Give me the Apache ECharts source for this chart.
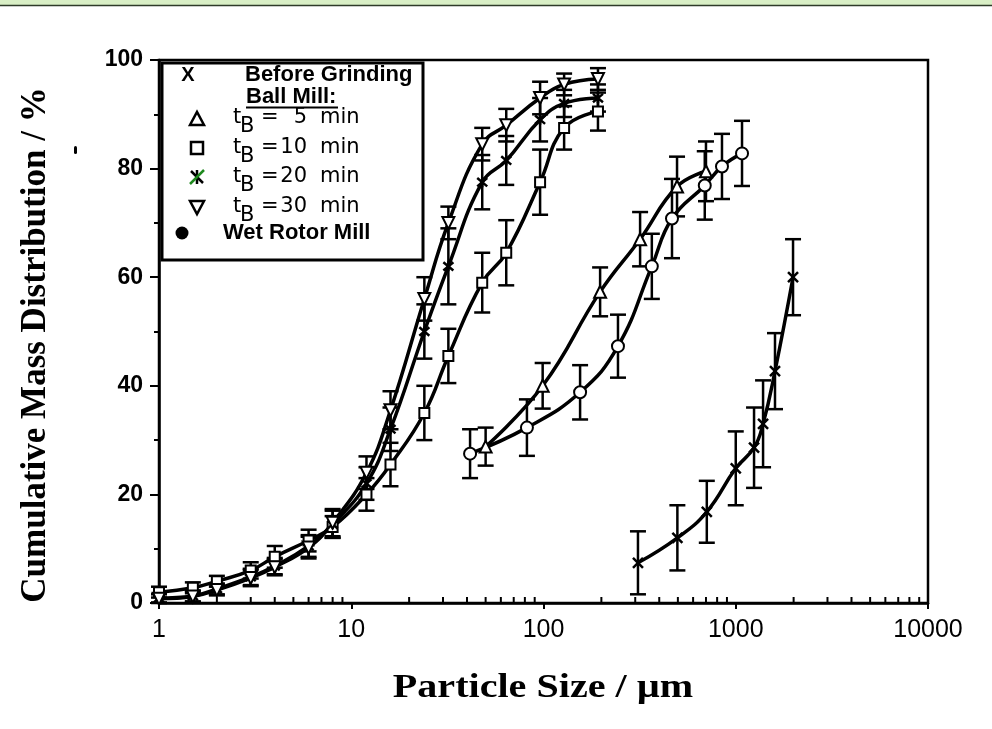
<!DOCTYPE html>
<html>
<head>
<meta charset="utf-8">
<script src="https://cdn.jsdelivr.net/npm/echarts@6/dist/echarts.min.js"></script>
<style>
  html, body { margin: 0; padding: 0; background: #fff; }
  #chart { width: 992px; height: 729px; }
</style>
</head>
<body>
<div id="chart"></div>
<script>
// particle sizes (um) for the ball mill runs
var sizeBall = [1, 1.5, 2, 3, 4, 6, 8, 12, 16, 24, 32, 48, 64, 96, 128, 192]
var t10 = [2.0, 2.8, 4.0, 6.0, 8.5, 11.5, 14.0, 20.0, 25.5, 35.0, 45.5, 59.0, 64.5, 77.5, 87.5, 90.5]
var err10 = [1, 1, 1, 1.5, 2, 2, 2, 3, 4, 5, 5, 5.5, 6, 6, 4, 3.5]
var t20 = [0.9, 1.3, 2.6, 4.8, 6.8, 10.5, 14.5, 22.0, 32.0, 50.0, 62.0, 77.5, 81.5, 89.0, 92.0, 93.0]
var err20 = [0.8, 1, 1, 1.5, 1.5, 2, 2.5, 3, 4, 5, 7, 5, 4.5, 4, 2.5, 2.5]
var t30 = [0.8, 1.2, 2.4, 4.6, 6.6, 10.2, 14.8, 24.0, 35.5, 56.0, 70.0, 84.5, 88.0, 93.0, 95.5, 96.5]
var err30 = [0.8, 1, 1, 1.5, 1.5, 2, 2.5, 3, 3.5, 4, 3, 3, 3, 3, 2, 2]

// t_B = 5 min
var size5 = [50, 99, 197, 318, 495, 700]
var t5 = [28.8, 40.0, 57.3, 67.0, 76.7, 79.5]
var err5 = [3.5, 4.2, 4.5, 5, 5.5, 5.5]

// wet rotor mill
var sizeWet = [41.5, 82, 155, 244, 366, 466, 690, 848, 1078]
var wet = [27.5, 32.3, 38.8, 47.3, 62.0, 70.8, 76.9, 80.4, 82.8]
var errWet = [4.5, 5.2, 5, 5.8, 6, 7.3, 6.3, 6, 6]

// before grinding
var sizeBefore = [310, 497, 707, 1000, 1245, 1387, 1600, 1986]
var before = [7.4, 12.0, 16.8, 24.8, 28.6, 33.0, 42.7, 60.0]
var errBefore = [5.8, 6, 5.7, 6.8, 7.4, 8, 7, 7]

var xDecades = [1, 10, 100, 1000]
var legendRows = [['5', 118], ['10', 148], ['20', 177], ['30', 207]]

var minorX = []
xDecades.forEach(function (d) {
  for (var k = 2; k <= 9; k++) minorX.push([d * k, 0])
})

function pairs(xs, ys) {
  return xs.map(function (x, i) { return [x, ys[i]] })
}
function triples(xs, ys, es) {
  return xs.map(function (x, i) { return [x, ys[i], es[i]] })
}

var crossPath = 'path://M0,0L10,10M10,0L0,10'
var starPath = 'path://M0,0L10,10M10,0L0,10M5,-1L5,11'

function errorBars(name, xs, ys, es) {
  return {
    type: 'custom',
    name: name + ' err',
    silent: true,
    z: 2,
    clip: false,
    data: triples(xs, ys, es),
    renderItem: function (params, api) {
      var x = api.value(0), y = api.value(1), e = api.value(2)
      var top = api.coord([x, y + e])
      var bot = api.coord([x, y - e])
      var w = 8
      var st = { stroke: '#000', lineWidth: 2.5 }
      return {
        type: 'group',
        children: [
          { type: 'line', shape: { x1: top[0], y1: top[1], x2: bot[0], y2: bot[1] }, style: st },
          { type: 'line', shape: { x1: top[0] - w, y1: top[1], x2: top[0] + w, y2: top[1] }, style: st },
          { type: 'line', shape: { x1: bot[0] - w, y1: bot[1], x2: bot[0] + w, y2: bot[1] }, style: st }
        ]
      }
    }
  }
}

function curve(name, xs, ys, symbol, size, rotate, stroked) {
  return {
    type: 'line',
    name: name,
    data: pairs(xs, ys),
    smooth: 0.45,
    z: 3,
    symbol: symbol,
    symbolSize: size,
    symbolRotate: rotate || 0,
    showAllSymbol: true,
    lineStyle: { color: '#000', width: 3.5 },
    itemStyle: {
      color: stroked ? '#000' : '#fff',
      borderColor: '#000',
      borderWidth: stroked ? 2.5 : 2
    }
  }
}

// one legend row: t, subscript B, "=", number, "min"
function legendRow(r) {
  var y = r[1]
  var f = '21px "DejaVu Sans"'
  return {
    type: 'group',
    children: [
      { type: 'text', x: 233, y: y, style: { text: 't', font: f, fill: '#000', textVerticalAlign: 'middle' } },
      { type: 'text', x: 240, y: y + 9, style: { text: 'B', font: '21px "DejaVu Sans"', fill: '#000', textVerticalAlign: 'middle' } },
      { type: 'text', x: 261, y: y, style: { text: '=', font: f, fill: '#000', textVerticalAlign: 'middle' } },
      { type: 'text', x: 307, y: y, style: { text: r[0], font: f, fill: '#000', textAlign: 'right', textVerticalAlign: 'middle' } },
      { type: 'text', x: 320, y: y, style: { text: 'min', font: f, fill: '#000', textVerticalAlign: 'middle' } }
    ]
  }
}

var chart = echarts.init(document.getElementById('chart'))

var option = {
  animation: false,
  backgroundColor: '#fff',
  grid: {
    left: 159, right: 64, top: 60, bottom: 126,
    show: true, borderColor: '#000', borderWidth: 2.5, backgroundColor: 'transparent'
  },
  xAxis: {
    type: 'log',
    logBase: 10,
    min: 1,
    max: 10000,
    axisLine: { lineStyle: { color: '#000', width: 2.5 } },
    axisTick: { length: 6, lineStyle: { color: '#000', width: 2 } },
    splitLine: { show: false },
    axisLabel: {
      margin: 15,
      color: '#000',
      fontFamily: 'Liberation Sans',
      fontSize: 25,
      formatter: function (v) { return String(Math.round(v)) }
    }
  },
  yAxis: {
    type: 'value',
    min: 0,
    max: 100,
    interval: 20,
    axisLine: { show: true, lineStyle: { color: '#000', width: 2.5 } },
    axisTick: { length: 9, lineStyle: { color: '#000', width: 2 } },
    minorTick: { show: true, splitNumber: 2, length: 5, lineStyle: { color: '#000', width: 2 } },
    splitLine: { show: false },
    axisLabel: {
      margin: 16,
      color: '#000',
      fontFamily: 'Liberation Sans',
      fontWeight: 'bold',
      fontSize: 23
    }
  },
  series: [
    {
      type: 'custom',
      name: 'minor x ticks',
      silent: true,
      clip: false,
      z: 1,
      data: minorX,
      renderItem: function (params, api) {
        var p = api.coord([api.value(0), 0])
        return {
          type: 'line',
          shape: { x1: p[0], y1: p[1], x2: p[0], y2: p[1] - 6 },
          style: { stroke: '#000', lineWidth: 2 }
        }
      }
    },
    errorBars('t10', sizeBall, t10, err10),
    errorBars('t20', sizeBall, t20, err20),
    errorBars('t30', sizeBall, t30, err30),
    errorBars('t5', size5, t5, err5),
    errorBars('wet', sizeWet, wet, errWet),
    errorBars('before', sizeBefore, before, errBefore),
    curve('tB=10 min', sizeBall, t10, 'rect', 10),
    curve('tB=20 min', sizeBall, t20, starPath, 10, 0, true),
    curve('tB=30 min', sizeBall, t30, 'triangle', 12, 180),
    curve('tB= 5 min', size5, t5, 'triangle', 12),
    curve('Wet Rotor Mill', sizeWet, wet, 'circle', 12),
    curve('Before Grinding', sizeBefore, before, crossPath, 10, 0, true)
  ],
  graphic: [
    // thin green strip at the very top of the page
    { type: 'rect', shape: { x: 0, y: 0, width: 992, height: 5 }, style: { fill: '#d9efc6' } },
    { type: 'line', shape: { x1: 0, y1: 5.5, x2: 992, y2: 5.5 }, style: { stroke: '#2f3b2a', lineWidth: 1.5 } },
    // axis titles
    {
      type: 'text', x: 36, y: 345, rotation: Math.PI / 2,
      style: {
        text: 'Cumulative Mass Distribution / %', fill: '#000',
        font: 'bold 35px "Liberation Serif"', textAlign: 'center', textVerticalAlign: 'middle'
      }
    },
    { type: 'rect', shape: { x: 74, y: 146, width: 3, height: 8, r: 1.5 }, style: { fill: '#000' } },
    {
      type: 'text', x: 543, y: 688, scaleX: 1.18,
      style: {
        text: 'Particle Size / \u00b5m', fill: '#000',
        font: 'bold 34px "Liberation Serif"', textAlign: 'center', textVerticalAlign: 'middle'
      }
    },
    // legend box
    {
      type: 'group', z: 100,
      children: [
        { type: 'rect', shape: { x: 162, y: 63, width: 261, height: 197 }, style: { fill: '#fff', stroke: '#000', lineWidth: 3 } },
        { type: 'text', x: 188, y: 75, style: { text: 'X', font: 'bold 20px "Liberation Sans"', fill: '#000', textAlign: 'center', textVerticalAlign: 'middle' } },
        { type: 'text', x: 245, y: 75, style: { text: 'Before Grinding', font: 'bold 22px "Liberation Sans"', fill: '#000', textVerticalAlign: 'middle' } },
        { type: 'text', x: 246, y: 97, style: { text: 'Ball Mill:', font: 'bold 22px "Liberation Sans"', fill: '#000', textVerticalAlign: 'middle' } },
        { type: 'line', shape: { x1: 246, y1: 107.5, x2: 338, y2: 107.5 }, style: { stroke: '#000', lineWidth: 2 } },

        { type: 'polygon', shape: { points: [[190, 125], [204, 125], [197, 112]] }, style: { fill: '#fff', stroke: '#000', lineWidth: 2.5 } },
        { type: 'rect', shape: { x: 191, y: 142, width: 12, height: 12 }, style: { fill: '#fff', stroke: '#000', lineWidth: 2.5 } },
        { type: 'polyline', shape: { points: [[191, 171], [203, 183]] }, style: { stroke: '#000', lineWidth: 2.5 } },
        { type: 'polyline', shape: { points: [[197, 170], [197, 184]] }, style: { stroke: '#000', lineWidth: 2.5 } },
        { type: 'polyline', shape: { points: [[190, 184], [204, 170]] }, style: { stroke: '#1f8a1f', lineWidth: 2.5 } },
        { type: 'polygon', shape: { points: [[190, 201], [204, 201], [197, 214]] }, style: { fill: '#fff', stroke: '#000', lineWidth: 2.5 } },
        { type: 'circle', shape: { cx: 182, cy: 233, r: 6.5 }, style: { fill: '#000' } },
        { type: 'text', x: 223, y: 233, style: { text: 'Wet Rotor Mill', font: 'bold 22px "Liberation Sans"', fill: '#000', textVerticalAlign: 'middle' } }
      ].concat(legendRows.map(legendRow))
    }
  ]
}

chart.setOption(option)
</script>
</body>
</html>
